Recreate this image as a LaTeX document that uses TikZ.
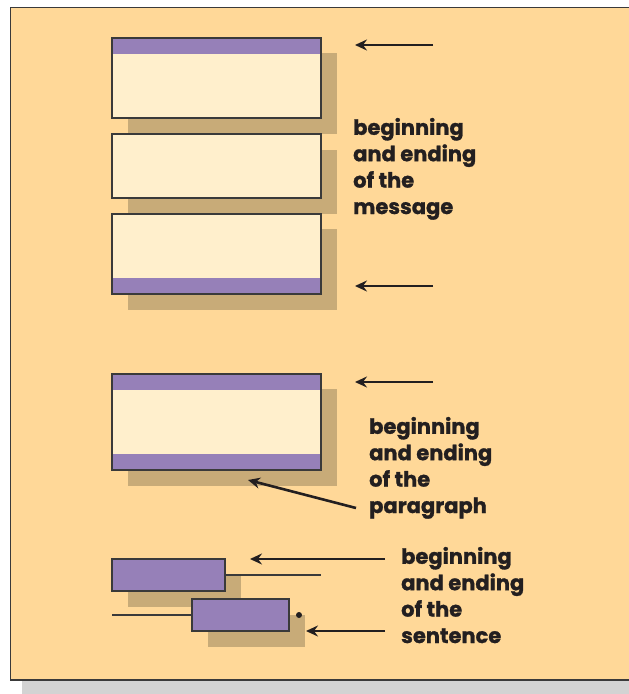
\documentclass[tikz,border=0pt]{standalone}
\usepackage{fontspec}
\setmainfont{Poppins}
\newfontfamily\lblfont{Poppins}[BoldFeatures={FakeBold=1.2}]
\usetikzlibrary{arrows.meta}
\definecolor{bgc}{HTML}{FFD898}
\definecolor{boxc}{HTML}{FFEFCC}
\definecolor{purp}{HTML}{9680B8}
\definecolor{shad}{HTML}{C8AB78}
\definecolor{edgec}{HTML}{3A3A3A}
\definecolor{txtc}{HTML}{231F20}
\definecolor{barc}{HTML}{D3D3D3}
\tikzset{
  shadowbox/.style={fill=shad},
  pagebox/.style={draw=edgec, line width=1.3pt, fill=boxc, inner sep=0pt, outer sep=0pt, anchor=north west},
  sentbox/.style={draw=edgec, line width=1.3pt, fill=purp, inner sep=0pt, outer sep=0pt, anchor=north west},
  band/.style={fill=purp},
  rim/.style={draw=edgec, line width=1.3pt},
  pointer/.style={draw=txtc, line width=2.6pt, -{Stealth[length=12pt, width=11pt, inset=4pt]}},
  rule/.style={draw=edgec, line width=1.1pt},
  label/.style={align=left, anchor=base west, inner sep=0pt, text=txtc, font=\lblfont\fontsize{21}{26.4}\selectfont\bfseries}
}
\begin{document}
\begin{tikzpicture}[x=1pt,y=-1pt]
\useasboundingbox (0,0) rectangle (629,694);
% page background
\fill[barc] (22,681) rectangle (629,694);
\fill[bgc] (10.5,7.5) rectangle (629,680);
\draw[edgec, line width=1.3pt] (629,7.5) -- (10.5,7.5) -- (10.5,680) -- (629,680);

% message boxes
\fill[shadowbox] (128,53) rectangle (337,134);
\node[pagebox, minimum width=209pt, minimum height=80pt] (m1) at (112,38) {};
\fill[band] (m1.north west) rectangle ([yshift=-16pt]m1.north east);
\draw[rim] (m1.north west) rectangle (m1.south east);

\fill[shadowbox] (128,150) rectangle (337,214);
\node[pagebox, minimum width=209pt, minimum height=64pt] (m2) at (112,134) {};

\fill[shadowbox] (128,229) rectangle (337,310);
\node[pagebox, minimum width=209pt, minimum height=80pt] (m3) at (112,214) {};
\fill[band] ([yshift=16pt]m3.south west) rectangle (m3.south east);
\draw[rim] (m3.north west) rectangle (m3.south east);

\coordinate (a1s) at (433,45);
\coordinate (a1e) at (355,45);
\draw[pointer] (a1s) -- (a1e);
\coordinate (a2s) at (433,286);
\coordinate (a2e) at (355,286);
\draw[pointer] (a2s) -- (a2e);
\node[label] (tm) at (353,214) {beginning\\and ending\\of the\\message};

% paragraph box
\fill[shadowbox] (128,389) rectangle (337,486);
\node[pagebox, minimum width=209pt, minimum height=96pt] (p1) at (112,374) {};
\fill[band] (p1.north west) rectangle ([yshift=-16pt]p1.north east);
\fill[band] ([yshift=16pt]p1.south west) rectangle (p1.south east);
\draw[rim] (p1.north west) rectangle (p1.south east);

\coordinate (a3s) at (433,382);
\coordinate (a3e) at (355,382);
\draw[pointer] (a3s) -- (a3e);
\coordinate (a4s) at (356,508);
\coordinate (a4e) at (248,480);
\draw[pointer] (a4s) -- (a4e);
\node[label] (tp) at (369,513) {beginning\\and ending\\of the\\paragraph};

% sentence boxes
\fill[shadowbox] (128,575) rectangle (241,607);
\fill[shadowbox] (208,615) rectangle (305,647);
\node[sentbox, minimum width=113pt, minimum height=32pt] (s1) at (112,559) {};
\node[sentbox, minimum width=97pt, minimum height=32pt] (s2) at (192,599) {};
\coordinate (s1end) at (321,575);
\coordinate (s2start) at (112,615);
\draw[rule] (s1.east) -- (s1end);
\draw[rule] (s2start) -- (s2.west);
\node[circle, fill=txtc, inner sep=0pt, minimum size=6pt] (dot) at (299,615) {};

\coordinate (a5s) at (385,559);
\coordinate (a5e) at (250,559);
\draw[pointer] (a5s) -- (a5e);
\coordinate (a6s) at (385,631);
\coordinate (a6e) at (306,631);
\draw[pointer] (a6s) -- (a6e);
\node[label] (ts) at (401,643) {beginning\\and ending\\of the\\sentence};
\end{tikzpicture}
\end{document}
